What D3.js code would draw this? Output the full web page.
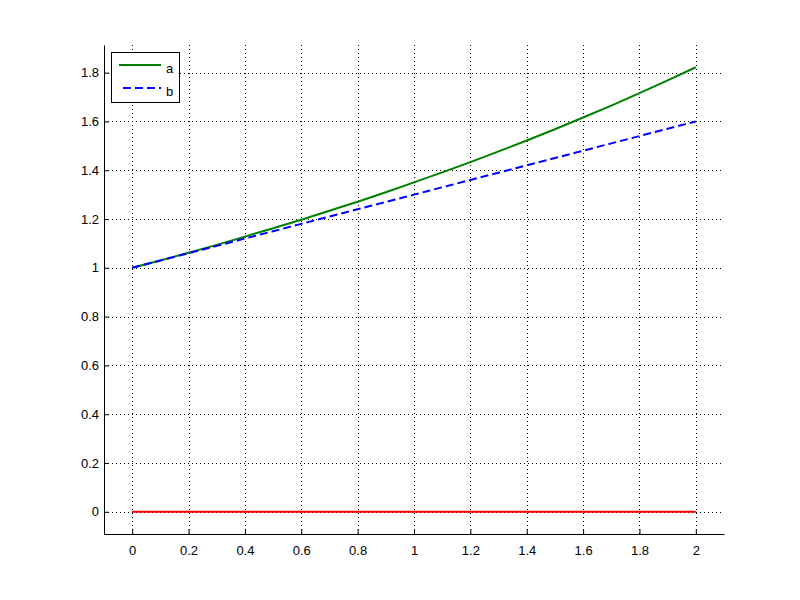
<!DOCTYPE html>
<html>
<head>
<meta charset="utf-8">
<script src="https://cdn.jsdelivr.net/npm/d3@7"></script>
<style>
  body { margin: 0; background: #fff; }
  svg { display: block; font-family: "Liberation Sans", Arial, sans-serif; }
</style>
</head>
<body>
<svg id="chart" width="800" height="600"></svg>
<script>
/*
Data.
 */
var xValues = [0, 0.1, 0.2, 0.3, 0.4, 0.5, 0.6, 0.7, 0.8, 0.9, 1.0,
               1.1, 1.2, 1.3, 1.4, 1.5, 1.6, 1.7, 1.8, 1.9, 2.0];
var seriesA = [1.000, 1.030, 1.062, 1.094, 1.128, 1.162, 1.197, 1.234, 1.271, 1.310, 1.350,
               1.391, 1.433, 1.477, 1.522, 1.568, 1.616, 1.665, 1.716, 1.768, 1.822];
var seriesB = [1.000, 1.030, 1.060, 1.090, 1.120, 1.150, 1.180, 1.210, 1.240, 1.270, 1.300,
               1.330, 1.360, 1.390, 1.420, 1.450, 1.480, 1.510, 1.540, 1.570, 1.600];
var seriesZero = [0, 0, 0, 0, 0, 0, 0, 0, 0, 0, 0,
                  0, 0, 0, 0, 0, 0, 0, 0, 0, 0];
var legendNames = ["a", "b"];
var xTicks = [0, 0.2, 0.4, 0.6, 0.8, 1, 1.2, 1.4, 1.6, 1.8, 2];
var xTickLabels = ["0", "0.2", "0.4", "0.6", "0.8", "1", "1.2", "1.4", "1.6", "1.8", "2"];
var yTicks = [0, 0.2, 0.4, 0.6, 0.8, 1, 1.2, 1.4, 1.6, 1.8];
var yTickLabels = ["0", "0.2", "0.4", "0.6", "0.8", "1", "1.2", "1.4", "1.6", "1.8"];
var xLimits = [-0.1, 2.1];
var yLimits = [-0.0911, 1.9133];

/*
Layout
 */
const plot = {left: 104, right: 724, top: 45, bottom: 534};
const fontSize = 13;

var svg = d3.select("#chart");

var x = d3.scaleLinear().domain(xLimits).range([plot.left, plot.right]);
var y = d3.scaleLinear().domain(yLimits).range([plot.bottom, plot.top]);

//dotted grid at every tick
var grid = svg.append("g")
    .attr("stroke", "#000")
    .attr("stroke-width", 1)
    .attr("stroke-dasharray", "1,3");

grid.selectAll(".vgrid").data(xTicks).enter().append("line")
    .attr("x1", d => Math.round(x(d)) + 0.5)
    .attr("x2", d => Math.round(x(d)) + 0.5)
    .attr("y1", plot.top)
    .attr("y2", plot.bottom);

grid.selectAll(".hgrid").data(yTicks).enter().append("line")
    .attr("y1", d => Math.round(y(d)) + 0.5)
    .attr("y2", d => Math.round(y(d)) + 0.5)
    .attr("x1", plot.left)
    .attr("x2", plot.right);

//axes, ticks pointing inside, no box
var xAxis = svg.append("g")
    .attr("transform", "translate(0," + plot.bottom + ")")
    .call(d3.axisBottom(x)
        .tickValues(xTicks)
        .tickFormat((d, i) => xTickLabels[i])
        .tickSizeInner(-5)
        .tickSizeOuter(0)
        .tickPadding(12));

var yAxis = svg.append("g")
    .attr("transform", "translate(" + plot.left + ",0)")
    .call(d3.axisLeft(y)
        .tickValues(yTicks)
        .tickFormat((d, i) => yTickLabels[i])
        .tickSizeInner(-5)
        .tickSizeOuter(0)
        .tickPadding(5));

[xAxis, yAxis].forEach(function(g) {
    g.selectAll("text")
        .attr("font-size", fontSize)
        .attr("font-family", "Liberation Sans, Arial, sans-serif")
        .attr("fill", "#000");
    g.selectAll("line, path").attr("stroke", "#000");
});

//series lines
var line = d3.line()
    .x(d => x(d[0]))
    .y(d => y(d[1]))
    .curve(d3.curveMonotoneX);

function pairs(values) {
    return xValues.map((v, i) => [v, values[i]]);
}

svg.append("path")
    .datum(pairs(seriesZero))
    .attr("d", line)
    .attr("fill", "none")
    .attr("stroke", "#ff0000")
    .attr("stroke-width", 2);

svg.append("path")
    .datum(pairs(seriesA))
    .attr("d", line)
    .attr("fill", "none")
    .attr("stroke", "#008000")
    .attr("stroke-width", 2);

svg.append("path")
    .datum(pairs(seriesB))
    .attr("d", line)
    .attr("fill", "none")
    .attr("stroke", "#0000ff")
    .attr("stroke-width", 2)
    .attr("stroke-dasharray", "8,4");

//legend
var legend = svg.append("g");
legend.append("rect")
    .attr("x", 111.5)
    .attr("y", 52.5)
    .attr("width", 68)
    .attr("height", 50)
    .attr("fill", "#fff")
    .attr("stroke", "#000");

var legendStyles = [
    {color: "#008000", dash: null, x1: 119},
    {color: "#0000ff", dash: "8,4", x1: 123}
];

legendNames.forEach(function(name, i) {
    var ly = 65 + i * 23;
    legend.append("line")
        .attr("x1", legendStyles[i].x1)
        .attr("x2", 161)
        .attr("y1", ly)
        .attr("y2", ly)
        .attr("stroke", legendStyles[i].color)
        .attr("stroke-width", 2)
        .attr("stroke-dasharray", legendStyles[i].dash);
    legend.append("text")
        .attr("x", 166)
        .attr("y", ly + 8)
        .attr("font-size", fontSize)
        .attr("fill", "#000")
        .text(name);
});
</script>
</body>
</html>
